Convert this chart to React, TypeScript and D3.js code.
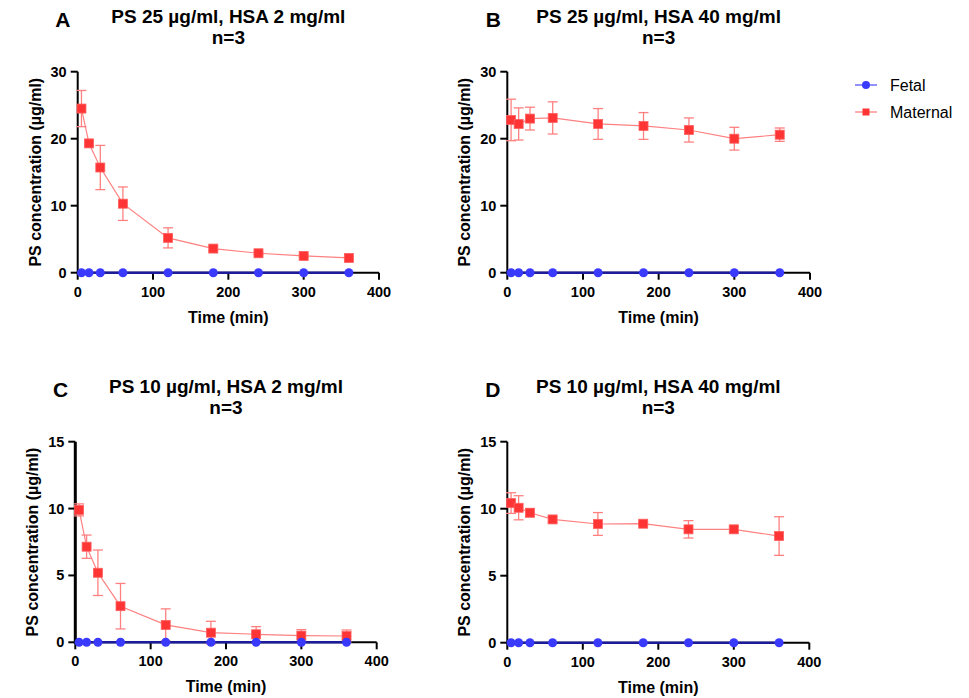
import React from "react";
import * as d3 from "d3";

const times = [5, 15, 30, 60, 120, 180, 240, 300, 360];
const xTicks = [0, 100, 200, 300, 400];

const fetalA = [0, 0, 0, 0, 0, 0, 0, 0, 0];
const maternalA = [24.5, 19.3, 15.7, 10.3, 5.2, 3.6, 2.9, 2.5, 2.2];
const maternalASd = [2.7, 0.3, 3.3, 2.5, 1.5, 0.3, 0.2, 0.2, 0.2];

const fetalB = [0, 0, 0, 0, 0, 0, 0, 0, 0];
const maternalB = [22.8, 22.2, 23.0, 23.1, 22.2, 21.9, 21.3, 20.0, 20.6];
const maternalBSd = [3.1, 2.4, 1.7, 2.4, 2.3, 2.0, 1.8, 1.7, 1.0];

const fetalC = [0, 0, 0, 0, 0, 0, 0, 0, 0];
const maternalC = [9.9, 7.15, 5.2, 2.7, 1.3, 0.72, 0.6, 0.5, 0.47];
const maternalCSd = [0.45, 0.87, 1.7, 1.7, 1.2, 0.85, 0.57, 0.45, 0.45];

const fetalD = [0, 0, 0, 0, 0, 0, 0, 0, 0];
const maternalD = [10.42, 10.07, 9.7, 9.2, 8.86, 8.88, 8.46, 8.46, 7.96];
const maternalDSd = [0.77, 0.9, 0.3, 0.2, 0.85, 0.1, 0.65, 0.2, 1.44];

const FONT = "'Liberation Sans', Arial, sans-serif";
const RED = "#ff3535";
const RED_LIGHT = "#ff8080";
const BLUE = "#3a3aff";
const NAVY = "#1c1c9a";

type PanelProps = {
  letter: string;
  title: string;
  left: number;
  right: number;
  top: number;
  bottom: number;
  yMax: number;
  yTicks: number[];
  fetal: number[];
  maternal: number[];
  sd: number[];
  axisWidth?: number;
};

function Panel(p: PanelProps) {
  const x = d3.scaleLinear().domain([0, 400]).range([p.left, p.right]);
  const y = d3.scaleLinear().domain([0, p.yMax]).range([p.bottom, p.top]);
  const line = d3
    .line<number>()
    .x((d, i) => x(times[i]))
    .y((d) => y(d));
  const cx = (p.left + p.right) / 2;
  const cy = (p.top + p.bottom) / 2;
  const aw = p.axisWidth || 2;
  const sq = 9;

  return (
    <g>
      <text x={cx - 173} y={p.top - 45} fontSize={21} fontWeight="bold" fontFamily={FONT}>
        {p.letter}
      </text>
      <text x={cx} y={p.top - 49} fontSize={19} fontWeight="bold" textAnchor="middle" fontFamily={FONT}>
        {p.title}
      </text>
      <text x={cx} y={p.top - 28} fontSize={19} fontWeight="bold" textAnchor="middle" fontFamily={FONT}>
        n=3
      </text>

      {/* axes */}
      <line x1={p.left} x2={p.left} y1={p.top} y2={p.bottom + aw / 2} stroke="#000" strokeWidth={aw} />
      <line x1={p.left - 1} x2={p.right} y1={p.bottom} y2={p.bottom} stroke="#000" strokeWidth={2} />
      {p.yTicks.map((t) => (
        <g key={"y" + t}>
          <line x1={p.left - 7} x2={p.left} y1={y(t)} y2={y(t)} stroke="#000" strokeWidth={2} />
          <text x={p.left - 11} y={y(t) + 5} fontSize={14.5} fontWeight="bold" textAnchor="end" fontFamily={FONT}>
            {t}
          </text>
        </g>
      ))}
      {xTicks.map((t) => (
        <g key={"x" + t}>
          <line x1={x(t)} x2={x(t)} y1={p.bottom} y2={p.bottom + 7} stroke="#000" strokeWidth={2} />
          <text x={x(t)} y={p.bottom + 24} fontSize={14.5} fontWeight="bold" textAnchor="middle" fontFamily={FONT}>
            {t}
          </text>
        </g>
      ))}
      <text x={cx} y={p.bottom + 50} fontSize={16} fontWeight="bold" textAnchor="middle" fontFamily={FONT}>
        Time (min)
      </text>
      <text
        transform={`translate(${p.left - 37},${cy}) rotate(-90)`}
        fontSize={16}
        fontWeight="bold"
        textAnchor="middle"
        fontFamily={FONT}
      >
        PS concentration (µg/ml)
      </text>

      {/* maternal */}
      <path d={line(p.maternal) || ""} fill="none" stroke={RED_LIGHT} strokeWidth={1.2} />
      {p.maternal.map((v, i) => {
        const s = p.sd[i];
        const px = x(times[i]);
        return (
          <g key={"e" + i} stroke={RED_LIGHT} strokeWidth={1.3}>
            <line x1={px} x2={px} y1={y(v + s)} y2={y(v - s)} />
            <line x1={px - 5} x2={px + 5} y1={y(v + s)} y2={y(v + s)} />
            <line x1={px - 5} x2={px + 5} y1={y(v - s)} y2={y(v - s)} />
          </g>
        );
      })}
      {p.maternal.map((v, i) => (
        <rect
          key={"m" + i}
          x={x(times[i]) - sq / 2}
          y={y(v) - sq / 2}
          width={sq}
          height={sq}
          fill={RED}
          stroke="#ff6060"
          strokeWidth={0.8}
        />
      ))}

      {/* fetal */}
      <path d={line(p.fetal) || ""} fill="none" stroke={NAVY} strokeWidth={2.5} />
      {p.fetal.map((v, i) => (
        <circle key={"f" + i} cx={x(times[i])} cy={y(v)} r={4.5} fill={BLUE} />
      ))}
    </g>
  );
}

export default function App() {
  return (
    <svg
      width={969}
      height={698}
      style={{ position: "absolute", left: 0, top: 0, background: "#fff" }}
    >
      <Panel letter="A" title="PS 25 µg/ml, HSA 2 mg/ml" left={77.7} right={379} top={71.7} bottom={272.7}
        yMax={30} yTicks={[0, 10, 20, 30]} fetal={fetalA} maternal={maternalA} sd={maternalASd} />
      <Panel letter="B" title="PS 25 µg/ml, HSA 40 mg/ml" left={507.3} right={810} top={71.7} bottom={272.7}
        yMax={30} yTicks={[0, 10, 20, 30]} fetal={fetalB} maternal={maternalB} sd={maternalBSd} />
      <Panel letter="C" title="PS 10 µg/ml, HSA 2 mg/ml" left={75.3} right={376.7} top={441.7} bottom={642.3}
        yMax={15} yTicks={[0, 5, 10, 15]} fetal={fetalC} maternal={maternalC} sd={maternalCSd} axisWidth={3} />
      <Panel letter="D" title="PS 10 µg/ml, HSA 40 mg/ml" left={507.3} right={809.3} top={441.7} bottom={642.7}
        yMax={15} yTicks={[0, 5, 10, 15]} fetal={fetalD} maternal={maternalD} sd={maternalDSd} />

      {/* legend */}
      <g fontFamily={FONT} fontSize={16}>
        <line x1={855} x2={877} y1={85} y2={85} stroke="#5555ff" strokeWidth={1.3} />
        <circle cx={866} cy={85} r={4} fill={BLUE} />
        <text x={890} y={90.5}>Fetal</text>
        <line x1={855} x2={877} y1={112} y2={112} stroke={RED_LIGHT} strokeWidth={1.3} />
        <rect x={862.5} y={108.5} width={7} height={7} fill={RED} />
        <text x={890} y={117.5}>Maternal</text>
      </g>
    </svg>
  );
}
